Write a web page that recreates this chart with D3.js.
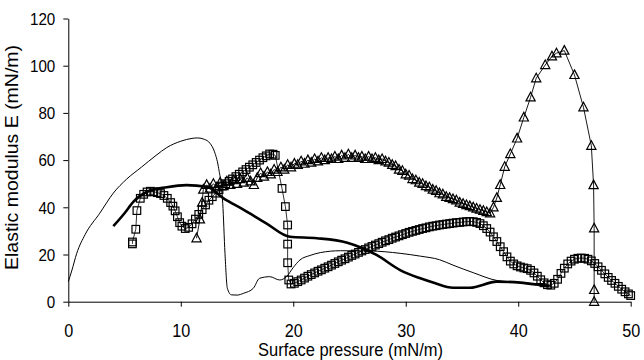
<!DOCTYPE html>
<html>
<head>
<meta charset="utf-8">
<script src="https://cdn.jsdelivr.net/npm/d3@7"></script>
<style>
  html, body { margin: 0; padding: 0; background: #fff; }
  svg { display: block; }
  text { font-family: "Liberation Sans", Arial, sans-serif; fill: #000; }
</style>
</head>
<body>
<svg id="chart" width="644" height="360"></svg>
<script>
// ---- Data ----
const xTicks = [0, 10, 20, 30, 40, 50];
const yTicks = [0, 20, 40, 60, 80, 100, 120];
const xTitle = "Surface pressure (mN/m)";
const yTitle = "Elastic modulus E (mN/m)";

// thin solid line
const thinX = [0, 0.3, 0.75, 1.5, 2.8, 4.0, 5.2, 6.5, 7.8, 8.75, 10.0, 11.0, 11.5, 12.1, 12.6, 13.0, 13.34, 13.73, 13.93, 14.14, 14.5, 15.0, 15.6, 16.45, 17.0, 17.9, 18.8, 19.4, 20.0, 20.6, 21.5, 22.4, 24.2, 26.8, 29.5, 31.3, 33.0, 34.2, 36.0, 38.1, 40.0, 42.5];
const thinY = [8.5, 13.0, 20.5, 28.5, 37.5, 46.0, 52.0, 57.0, 62.0, 65.3, 68.0, 69.2, 69.4, 68.8, 67.1, 63.5, 57.2, 41.7, 20.5, 5.7, 2.9, 2.8, 3.6, 5.7, 9.9, 10.6, 9.2, 10.6, 14.5, 17.7, 19.6, 20.8, 21.6, 21.5, 20.5, 19.3, 17.8, 15.5, 12.3, 9.0, 8.2, 7.2];

// thick solid line
const thickX = [4.0, 5.0, 5.8, 7.0, 8.75, 10.5, 12.3, 13.8, 15.6, 17.6, 19.7, 22.1, 24.8, 27.4, 29.5, 31.3, 32.5, 34.2, 35.7, 38.1, 40.2, 41.9, 42.8];
const thickY = [32.0, 37.5, 42.4, 46.6, 48.5, 49.4, 48.7, 43.8, 38.9, 33.2, 27.5, 26.9, 25.0, 19.8, 13.4, 9.9, 8.0, 5.9, 5.9, 8.5, 8.1, 7.1, 6.5];

// open squares series
const sqX = [5.7, 5.7, 6.0, 6.1, 6.4, 6.7, 7.0, 7.3, 7.6, 7.9, 8.2, 8.5, 8.8, 9.1, 9.3, 9.5, 9.7, 9.9, 10.1, 10.4, 10.7, 11.0, 11.3, 11.6, 11.9, 12.2, 12.5, 12.8, 13.1, 13.4, 13.7, 14.0, 14.3, 14.6, 14.9, 15.2, 15.5, 15.8, 16.1, 16.4, 16.7, 17.0, 17.3, 17.6, 17.9, 18.2, 18.4, 19.0, 19.3, 19.5, 19.5, 19.5, 19.6, 19.8, 20.1, 20.4, 20.7, 21.0, 21.3, 21.6, 21.9, 22.2, 22.5, 22.8, 23.1, 23.4, 23.7, 24.0, 24.3, 24.6, 24.9, 25.2, 25.5, 25.8, 26.1, 26.4, 26.7, 27.0, 27.3, 27.6, 27.9, 28.2, 28.5, 28.8, 29.1, 29.4, 29.7, 30.0, 30.3, 30.6, 30.9, 31.2, 31.5, 31.8, 32.1, 32.4, 32.7, 33.0, 33.3, 33.6, 33.9, 34.2, 34.5, 34.8, 35.1, 35.4, 35.7, 36.0, 36.3, 36.6, 36.9, 37.2, 37.5, 37.8, 38.1, 38.4, 38.7, 39.0, 39.3, 39.6, 39.9, 40.2, 40.5, 40.8, 41.1, 41.4, 41.7, 42.0, 42.3, 42.6, 42.9, 43.2, 43.5, 43.8, 44.1, 44.4, 44.7, 45.0, 45.3, 45.6, 45.9, 46.2, 46.5, 46.8, 47.1, 47.4, 47.7, 48.0, 48.3, 48.6, 48.9, 49.2, 49.5, 49.8, 50.0];
const sqY = [24.5, 25.3, 30.7, 38.6, 43.8, 45.5, 46.5, 46.8, 46.6, 46.2, 45.8, 45.0, 43.8, 42.0, 40.5, 38.5, 36.0, 33.5, 32.0, 31.0, 31.5, 33.0, 35.0, 37.0, 39.0, 41.0, 43.0, 44.5, 46.0, 47.5, 49.0, 50.0, 51.0, 52.0, 53.0, 54.0, 55.0, 56.0, 57.0, 58.0, 59.0, 60.0, 61.0, 61.8, 62.6, 62.5, 62.0, 48.0, 40.3, 32.5, 24.4, 16.5, 9.2, 7.5, 7.8, 8.5, 9.2, 10.0, 10.8, 11.5, 12.2, 12.9, 13.5, 14.2, 14.8, 15.5, 16.2, 16.9, 17.6, 18.2, 18.9, 19.6, 20.2, 20.9, 21.5, 22.1, 22.8, 23.4, 24.0, 24.6, 25.2, 25.8, 26.3, 26.9, 27.4, 27.9, 28.4, 28.9, 29.4, 29.8, 30.2, 30.6, 31.0, 31.3, 31.7, 32.0, 32.2, 32.5, 32.7, 32.9, 33.1, 33.3, 33.5, 33.6, 33.8, 33.9, 34.0, 33.9, 33.6, 33.1, 32.2, 31.0, 29.5, 27.5, 25.5, 23.3, 21.2, 19.0, 17.2, 16.0, 15.2, 14.7, 14.3, 14.0, 13.3, 12.2, 10.8, 9.3, 8.0, 7.2, 7.0, 7.8, 9.5, 12.0, 14.2, 16.0, 17.2, 18.0, 18.4, 18.5, 18.4, 18.0, 17.3, 16.2, 14.8, 13.3, 11.8, 10.3, 9.0, 7.8, 6.5, 5.3, 4.2, 3.3, 2.6];

// open triangles series
const triX = [11.4, 11.7, 11.9, 12.0, 12.3, 12.6, 12.9, 13.2, 13.5, 13.8, 14.1, 14.4, 14.7, 15.0, 15.3, 15.6, 15.9, 16.2, 16.5, 16.8, 17.1, 17.4, 17.7, 18.0, 18.3, 18.6, 18.9, 19.2, 19.5, 19.8, 20.1, 20.4, 20.7, 21.0, 21.3, 21.6, 21.9, 22.2, 22.5, 22.8, 23.1, 23.4, 23.7, 24.0, 24.3, 24.6, 24.9, 25.2, 25.5, 25.8, 26.1, 26.4, 26.7, 27.0, 27.3, 27.6, 27.9, 28.2, 28.5, 28.8, 29.1, 29.4, 29.7, 30.0, 30.3, 30.6, 30.9, 31.2, 31.5, 31.8, 32.1, 32.4, 32.7, 33.0, 33.3, 33.6, 33.9, 34.2, 34.5, 34.8, 35.1, 35.4, 35.7, 36.0, 36.3, 36.6, 36.9, 37.2, 37.5, 37.8, 38.1, 38.4, 38.8, 39.3, 39.9, 40.5, 41.1, 41.6, 42.4, 43.0, 43.4, 44.1, 45.0, 45.8, 46.5, 46.7, 46.75, 46.75, 46.75];
const triY = [26.9, 34.9, 42.0, 47.5, 49.5, 48.0, 50.0, 48.5, 50.5, 49.0, 51.0, 49.5, 51.5, 50.0, 52.0, 50.5, 52.5, 51.0, 49.5, 52.5, 54.5, 53.0, 55.0, 54.0, 56.0, 55.0, 57.0, 56.0, 58.0, 57.0, 58.5, 58.0, 59.5, 58.5, 60.0, 59.0, 60.5, 59.5, 61.0, 60.0, 61.0, 60.5, 61.5, 60.5, 62.0, 61.0, 62.5, 61.0, 62.0, 61.0, 61.5, 60.5, 61.5, 60.5, 61.0, 60.0, 60.5, 59.5, 59.0, 58.0, 57.5, 56.0, 55.5, 54.0, 53.5, 52.0, 51.5, 50.5, 50.0, 49.0, 48.5, 47.5, 47.0, 46.0, 45.5, 44.5, 44.0, 43.5, 43.0, 42.0, 41.5, 41.0, 40.5, 40.0, 39.5, 39.0, 38.5, 38.0, 37.5, 40.0, 44.0, 49.5, 57.2, 62.6, 69.2, 78.1, 86.6, 94.7, 100.3, 104.0, 105.3, 106.4, 96.1, 82.4, 66.1, 49.4, 31.1, 5.0, 0.0];

// ---- Drawing ----
const svg = d3.select("#chart");
const mLeft = 68.3, mRight = 630.7, mTop = 18.5, mBottom = 301.7;
const x = d3.scaleLinear().domain([0, 50]).range([mLeft, mRight]);
const y = d3.scaleLinear().domain([0, 120]).range([mBottom, mTop]);

const zip = (xs, ys) => xs.map((v, i) => [v, ys[i]]);
const thin = zip(thinX, thinY), thick = zip(thickX, thickY);
const sq = zip(sqX, sqY), tri = zip(triX, triY);

const plot = svg.append("g");

// thin line
plot.append("path").datum(thin)
  .attr("fill", "none").attr("stroke", "#000").attr("stroke-width", 1)
  .attr("d", d3.line().x(d => x(d[0])).y(d => y(d[1])).curve(d3.curveMonotoneX));

// thick line
plot.append("path").datum(thick)
  .attr("fill", "none").attr("stroke", "#000").attr("stroke-width", 2.6)
  .attr("d", d3.line().x(d => x(d[0])).y(d => y(d[1])).curve(d3.curveMonotoneX));

// squares series
plot.append("path").datum(sq)
  .attr("fill", "none").attr("stroke", "#000").attr("stroke-width", 0.8)
  .attr("d", d3.line().x(d => x(d[0])).y(d => y(d[1])));
const s = 3.8;
plot.append("g").selectAll("rect").data(sq).join("rect")
  .attr("x", d => x(d[0]) - s).attr("y", d => y(d[1]) - s)
  .attr("width", 2 * s).attr("height", 2 * s)
  .attr("fill", "none").attr("stroke", "#000").attr("stroke-width", 1.2);

// triangles series
plot.append("path").datum(tri)
  .attr("fill", "none").attr("stroke", "#000").attr("stroke-width", 0.9)
  .attr("d", d3.line().x(d => x(d[0])).y(d => y(d[1])));
plot.append("g").selectAll("path").data(tri).join("path")
  .attr("transform", d => `translate(${x(d[0])},${y(d[1])})`)
  .attr("d", "M0,-5L4.6,3.6L-4.6,3.6Z")
  .attr("fill", "none").attr("stroke", "#000").attr("stroke-width", 1.2);

// axes
const xAxis = svg.append("g").attr("transform", `translate(0,${mBottom})`)
  .call(d3.axisBottom(x).tickValues(xTicks).tickSize(5).tickSizeOuter(0).tickFormat(d3.format("d")));
xAxis.select(".domain").attr("stroke", "#000");
xAxis.selectAll(".tick line").attr("stroke", "#000");
xAxis.selectAll(".tick text")
  .attr("y", 0).attr("dy", 0)
  .attr("transform", "translate(0,35) scale(0.9,1)")
  .style("font-size", "18px").style("font-family", "Liberation Sans, Arial, sans-serif");

const yAxis = svg.append("g").attr("transform", `translate(${mLeft},0)`)
  .call(d3.axisLeft(y).tickValues(yTicks).tickSize(5).tickSizeOuter(0).tickFormat(d3.format("d")));
yAxis.select(".domain").attr("stroke", "#000");
yAxis.selectAll(".tick line").attr("stroke", "#000");
yAxis.selectAll(".tick text")
  .attr("x", 0).attr("dy", "0.35em")
  .attr("transform", "translate(-13,0) scale(0.92,1)")
  .style("font-size", "16.5px").style("font-family", "Liberation Sans, Arial, sans-serif");

// titles
svg.append("text")
  .attr("x", (mLeft + mRight) / 2 + 1).attr("y", 356)
  .attr("text-anchor", "middle")
  .attr("textLength", 185).attr("lengthAdjust", "spacingAndGlyphs")
  .style("font-size", "18.5px")
  .text(xTitle);

svg.append("text")
  .attr("transform", "translate(18,157.5) rotate(-90)")
  .attr("text-anchor", "middle")
  .attr("textLength", 225).attr("lengthAdjust", "spacingAndGlyphs")
  .style("font-size", "18.5px")
  .text(yTitle);
</script>
</body>
</html>
